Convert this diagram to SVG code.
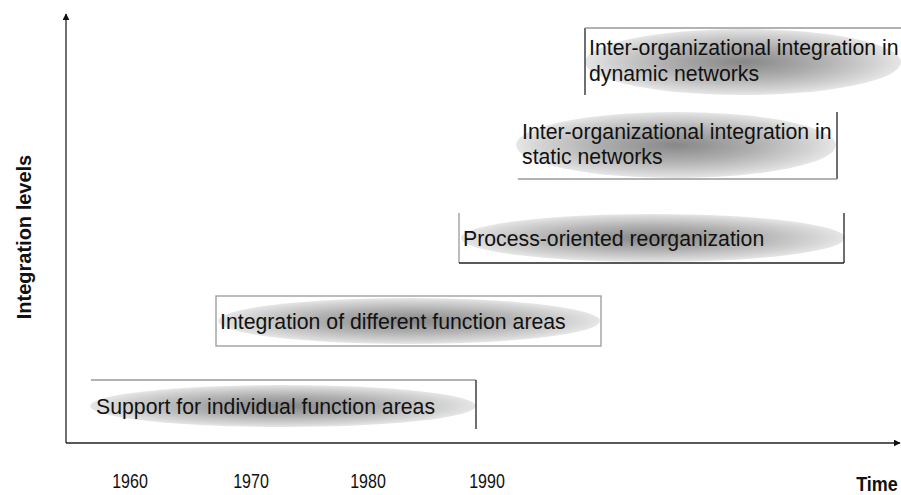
<svg xmlns="http://www.w3.org/2000/svg" width="901" height="495" viewBox="0 0 901 495">
<style>
.lbl{font-family:"Liberation Sans",Arial,sans-serif;font-size:21.25px;fill:#111}
.yr{font-family:"Liberation Sans",Arial,sans-serif;font-size:20px;fill:#111;text-anchor:middle}
.ax{font-family:"Liberation Sans",Arial,sans-serif;font-size:20px;font-weight:bold;fill:#111}
.gl{stroke:#999;stroke-width:1.3;fill:none}
.dl{stroke:#222;stroke-width:1.3;fill:none}
.axis{stroke:#222;stroke-width:1.3;fill:none}
.ell{fill:url(#g)}
</style>
<defs>
<radialGradient id="g" cx="0.5" cy="0.5" r="0.5">
<stop offset="0" stop-color="#878787"/>
<stop offset="0.5" stop-color="#b0b0b0"/>
<stop offset="0.85" stop-color="#d4d4d4"/>
<stop offset="1" stop-color="#e6e6e6"/>
</radialGradient>
<marker id="ah" viewBox="0 0 10 10" refX="9" refY="5" markerWidth="7" markerHeight="7" orient="auto" markerUnits="userSpaceOnUse">
<path d="M0,0 L10,5 L0,10 z" fill="#111"/>
</marker>
</defs>
<g id="connectors">
<line class="axis" x1="66" y1="443" x2="66" y2="14" marker-end="url(#ah)"/>
<line class="axis" x1="66" y1="443" x2="900" y2="443" marker-end="url(#ah)"/>
</g>
<g id="axis-labels">
<text class="ax" transform="translate(31,237) rotate(-90)" text-anchor="middle">Integration levels</text>
<text class="yr" transform="translate(130,488) scale(0.8,1)">1960</text>
<text class="yr" transform="translate(251,488) scale(0.8,1)">1970</text>
<text class="yr" transform="translate(368,488) scale(0.8,1)">1980</text>
<text class="yr" transform="translate(487,488) scale(0.8,1)">1990</text>
<text class="ax" transform="translate(877,491) scale(0.9,1)" font-size="18" text-anchor="middle">Time</text>
</g>
<g id="n1">
<ellipse class="ell" cx="283" cy="406" rx="193" ry="21"/>
<line class="gl" x1="91" y1="380" x2="476" y2="380"/>
<line class="dl" x1="476" y1="380" x2="476" y2="429"/>
<text class="lbl" x="96" y="414">Support for individual function areas</text>
</g>
<g id="n2">
<ellipse class="ell" cx="409" cy="321" rx="191" ry="23"/>
<rect class="gl" x="216" y="296" width="385" height="50"/>
<text class="lbl" x="220" y="329">Integration of different function areas</text>
</g>
<g id="n3">
<ellipse class="ell" cx="653" cy="238" rx="192" ry="24"/>
<line class="gl" x1="459" y1="213" x2="459" y2="263"/>
<line class="dl" x1="459" y1="263" x2="844" y2="263"/>
<line class="dl" x1="844" y1="213" x2="844" y2="263"/>
<text class="lbl" x="463" y="246">Process-oriented reorganization</text>
</g>
<g id="n4">
<ellipse class="ell" cx="676" cy="145" rx="160" ry="33"/>
<line class="dl" x1="837" y1="112" x2="837" y2="179"/>
<line class="gl" x1="518" y1="179" x2="837" y2="179"/>
<text class="lbl" x="522" y="139">Inter-organizational integration in</text>
<text class="lbl" x="522" y="164">static networks</text>
</g>
<g id="n5">
<ellipse class="ell" cx="743" cy="62" rx="158" ry="33"/>
<line class="dl" x1="585" y1="28" x2="585" y2="95"/>
<line class="gl" x1="585" y1="28" x2="901" y2="28"/>
<text class="lbl" x="589" y="55">Inter-organizational integration in</text>
<text class="lbl" x="589" y="81">dynamic networks</text>
</g>
</svg>
